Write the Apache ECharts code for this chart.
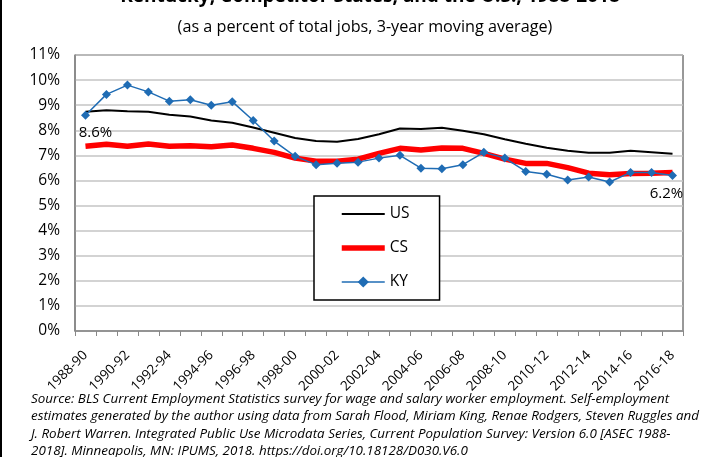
<!DOCTYPE html>
<html>
<head>
<meta charset="utf-8">
<script src="https://cdn.jsdelivr.net/npm/echarts@6/dist/echarts.min.js"></script>
<style>
  html, body { margin: 0; padding: 0; background: #fff; }
  #chart { width: 707px; height: 457px; }
</style>
</head>
<body>
<div id="chart"></div>
<script>
// 3-year moving average periods.
const periods = [
  '1988-90', '1989-91', '1990-92', '1991-93', '1992-94', '1993-95', '1994-96', '1995-97',
  '1996-98', '1997-99', '1998-00', '1999-01', '2000-02', '2001-03', '2002-04', '2003-05',
  '2004-06', '2005-07', '2006-08', '2007-09', '2008-10', '2009-11', '2010-12', '2011-13',
  '2012-14', '2013-15', '2014-16', '2015-17', '2016-18'
]

// percent of total jobs
const usValues = [
  8.74, 8.80, 8.76, 8.74, 8.62, 8.55, 8.39, 8.30, 8.11, 7.90, 7.69, 7.57, 7.54, 7.65, 7.84,
  8.07, 8.05, 8.10, 7.98, 7.84, 7.64, 7.46, 7.30, 7.18, 7.10, 7.10, 7.18, 7.12, 7.06
]
const csValues = [
  7.36, 7.44, 7.36, 7.45, 7.36, 7.38, 7.34, 7.41, 7.28, 7.12, 6.89, 6.77, 6.77, 6.85, 7.08,
  7.28, 7.21, 7.29, 7.28, 7.08, 6.85, 6.68, 6.68, 6.51, 6.29, 6.23, 6.28, 6.29, 6.32
]
const kyValues = [
  8.60, 9.43, 9.80, 9.53, 9.16, 9.22, 9.00, 9.14, 8.39, 7.57, 6.96, 6.63, 6.69, 6.73, 6.89,
  7.00, 6.49, 6.47, 6.63, 7.12, 6.89, 6.36, 6.25, 6.02, 6.14, 5.94, 6.32, 6.32, 6.20
]

const titleText = 'Kentucky, Competitor States, and the U.S., 1988-2018'
const subtitleText = '(as a percent of total jobs, 3-year moving average)'
const sourceLines = [
  'Source: BLS Current Employment Statistics survey for wage and salary worker employment. Self-employment',
  'estimates generated by the author using data from Sarah Flood, Miriam King, Renae Rodgers, Steven Ruggles and',
  'J. Robert Warren. Integrated Public Use Microdata Series, Current Population Survey: Version 6.0 [ASEC 1988-',
  '2018]. Minneapolis, MN: IPUMS, 2018. https://doi.org/10.18128/D030.V6.0'
]

const fontFamily = '"Open Sans", "Noto Sans", sans-serif'
const kyColor = '#1F6CB4'

// 首末两个点带数值标签.
const kyData = kyValues.map((v, i) => {
  if (i === 0) {
    return { value: v, label: { show: true, position: 'bottom', offset: [10, 1], formatter: '8.6%' } }
  }
  if (i === kyValues.length - 1) {
    return { value: v, label: { show: true, position: 'bottom', offset: [-6, 1], formatter: '6.2%' } }
  }
  return v
})

const chart = echarts.init(document.getElementById('chart'), null, { renderer: 'canvas' })

chart.setOption({
  animation: false,
  backgroundColor: '#fff',
  textStyle: { fontFamily },
  grid: {
    left: 75,
    right: 24,
    top: 55,
    bottom: 126,
    show: true,
    borderColor: '#333',
    borderWidth: 1,
  },
  legend: {
    orient: 'vertical',
    left: 314,
    top: 196,
    padding: [10, 30, 10, 25],
    itemGap: 18,
    itemWidth: 43,
    itemHeight: 14,
    backgroundColor: '#fff',
    borderColor: '#000',
    borderWidth: 1.5,
    textStyle: { fontSize: 15.5, color: '#000', fontFamily },
    data: [
      { name: 'US', itemStyle: { opacity: 0 }, lineStyle: { width: 2 } },
      { name: 'CS', itemStyle: { opacity: 0 }, lineStyle: { width: 5.5 } },
      { name: 'KY', lineStyle: { width: 1.5 } },
    ],
  },
  xAxis: {
    type: 'category',
    data: periods,
    boundaryGap: true,
    axisLine: { lineStyle: { color: '#888', width: 1.5 } },
    axisTick: { show: true, interval: 0, length: 5, lineStyle: { color: '#888' } },
    axisLabel: {
      interval: 1,
      rotate: 45,
      margin: 22,
      fontSize: 13.5,
      color: '#000',
      fontFamily,
    },
  },
  yAxis: {
    type: 'value',
    min: 0,
    max: 11,
    interval: 1,
    axisLine: { show: true, lineStyle: { color: '#888', width: 1.5 } },
    axisTick: { show: false },
    axisLabel: {
      formatter: '{value}%',
      fontSize: 15.5,
      color: '#000',
      margin: 15,
      fontFamily,
    },
    splitLine: { lineStyle: { color: '#c4c4c4', width: 1.5 } },
  },
  series: [
    {
      name: 'US',
      type: 'line',
      data: usValues,
      symbol: 'none',
      lineStyle: { color: '#000', width: 2 },
      itemStyle: { color: '#000' },
      z: 3,
    },
    {
      name: 'CS',
      type: 'line',
      data: csValues,
      symbol: 'none',
      lineStyle: { color: '#FF0000', width: 5.5 },
      itemStyle: { color: '#FF0000' },
      z: 2,
    },
    {
      name: 'KY',
      type: 'line',
      data: kyData,
      symbol: 'diamond',
      symbolSize: 9,
      lineStyle: { color: kyColor, width: 1.5 },
      itemStyle: { color: kyColor },
      label: { fontSize: 15, color: '#000', fontFamily },
      z: 4,
    },
  ],
  graphic: [
    {
      type: 'rect',
      shape: { x: 0, y: 0, width: 2, height: 457 },
      style: { fill: '#000' },
    },
    {
      type: 'text',
      x: 370,
      y: -3,
      style: {
        text: titleText,
        font: `bold 19px ${fontFamily}`,
        fill: '#000',
        textAlign: 'center',
        textVerticalAlign: 'middle',
      },
    },
    {
      type: 'text',
      x: 365,
      y: 27,
      style: {
        text: subtitleText,
        font: `16.2px ${fontFamily}`,
        fill: '#000',
        textAlign: 'center',
        textVerticalAlign: 'middle',
      },
    },
    ...sourceLines.map((line, i) => ({
      type: 'text',
      x: 31,
      y: 399 + i * 17.5,
      style: {
        text: line,
        font: `italic 13.4px ${fontFamily}`,
        fill: '#000',
        textAlign: 'left',
        textVerticalAlign: 'middle',
      },
    })),
  ],
})
</script>
</body>
</html>
